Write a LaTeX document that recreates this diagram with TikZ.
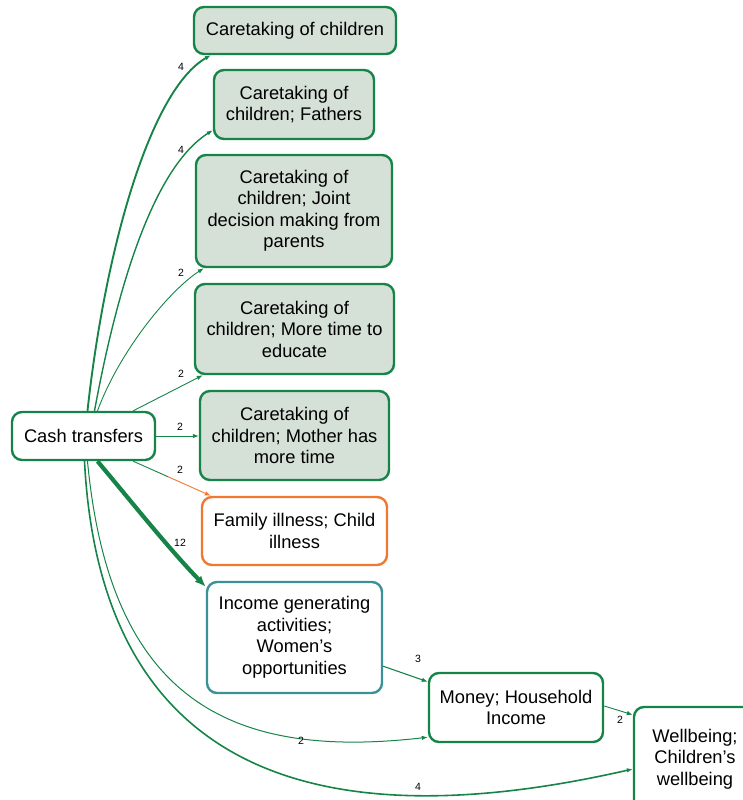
\documentclass[tikz,border=0pt]{standalone}
\usepackage{fontspec}
\setmainfont{Liberation Sans}
\usetikzlibrary{arrows.meta,calc}
\definecolor{cgreen}{RGB}{22,132,72}
\definecolor{cfill}{RGB}{213,224,215}
\definecolor{corange}{RGB}{240,120,48}
\definecolor{cteal}{RGB}{58,146,152}
\tikzset{
  box/.style={draw=cgreen, line width=2.4pt, rounded corners=10pt, align=center,
    inner sep=0pt, font=\fontsize{18.3}{21.5}\selectfont},
  carebox/.style={box, fill=cfill},
  lbl/.style={font=\fontsize{10.5}{12}\selectfont, inner sep=1pt},
  link/.style={draw=cgreen, -{Latex[length=6pt,width=4.5pt]}},
}
\begin{document}
\begin{tikzpicture}[x=1pt,y=-1pt]
\useasboundingbox (0,0) rectangle (743,800);

% boxes
\node[box, minimum width=143pt, minimum height=48pt] (cash) at (83.5,436) {Cash transfers};
\node[carebox, minimum width=202pt, minimum height=47pt] (c1) at (295,30.5) {Caretaking of children};
\node[carebox, minimum width=160pt, minimum height=69pt] (c2) at (294,104.5) {Caretaking of\\children; Fathers};
\node[carebox, minimum width=196pt, minimum height=112pt] (c3) at (294,211) {Caretaking of\\children; Joint\\decision making from\\parents};
\node[carebox, minimum width=199pt, minimum height=90pt] (c4) at (294.5,329) {Caretaking of\\children; More time to\\educate};
\node[carebox, minimum width=189pt, minimum height=89pt] (c5) at (294.5,435.5) {Caretaking of\\children; Mother has\\more time};
\node[box, draw=corange, minimum width=185pt, minimum height=68pt] (ill) at (294.5,531) {Family illness; Child\\illness};
\node[box, draw=cteal, minimum width=175pt, minimum height=111pt] (inc) at (294.5,637.5) {Income generating\\activities;\\Women’s\\opportunities};
\node[box, minimum width=174pt, minimum height=69pt] (money) at (516,707.5) {Money; Household\\Income};
\node[box, minimum width=122pt, minimum height=104pt] (well) at (695,759) {Wellbeing;\\Children’s\\wellbeing};

% connectors from the cash transfers
\draw[link, line width=1.9pt] ([xshift=4pt]cash.north) .. controls (105,250) and (150,90) .. ([xshift=18pt]c1.south west);
\draw[link, line width=1.4pt] ([xshift=11pt]cash.north) .. controls (115,300) and (150,170) .. ([yshift=10pt]c2.south west);
\draw[link, line width=0.9pt] ([xshift=14pt]cash.north) .. controls (120,350) and (170,290) .. ([xshift=9pt]c3.south west);
\draw[link, line width=0.9pt] ([xshift=-23pt]cash.north east) -- ([xshift=9pt]c4.south west);
\draw[link, line width=0.9pt] (cash.east) -- (c5.west |- cash.east);
\coordinate (illA) at ([xshift=-23pt]cash.south east);
\coordinate (illB) at ([xshift=10pt]ill.north west);
\draw[draw=cgreen, line width=0.9pt] (illA) -- ($(illA)!0.45!(illB)$);
\draw[link, draw=corange, line width=0.9pt] ($(illA)!0.45!(illB)$) -- (illB);
\draw[link, line width=4.2pt, -{Latex[length=11pt,width=9pt]}] ([xshift=14pt]cash.south) .. controls (130,500) and (170,550) .. ([yshift=-6pt]inc.north west);
\draw[link, line width=1pt] ([xshift=4pt]cash.south) .. controls (110,700) and (230,760) .. ([yshift=6pt]money.south west);
\draw[link, line width=1.6pt] ([xshift=1pt]cash.south) .. controls (100,760) and (300,845) .. ([yshift=-10pt]well.west);

% connectors further down the chain
\draw[link, line width=1.1pt] ([yshift=28pt]inc.south east) -- ([yshift=-10pt]money.north west);
\draw[link, line width=0.9pt] ([yshift=1.5pt]money.east) -- ([yshift=-9pt]well.north west);

% counts on the connectors
\node[lbl] (n1) at (181,67) {4};
\node[lbl] (n2) at (181,150) {4};
\node[lbl] (n3) at (181,273) {2};
\node[lbl] (n4) at (181,374) {2};
\node[lbl] (n5) at (180,427) {2};
\node[lbl] (n6) at (180,470) {2};
\node[lbl] (n7) at (180,543) {12};
\node[lbl] (n8) at (301,741) {2};
\node[lbl] (n9) at (418,787) {4};
\node[lbl] (n10) at (418,659) {3};
\node[lbl] (n11) at (620,720) {2};
\end{tikzpicture}
\end{document}
